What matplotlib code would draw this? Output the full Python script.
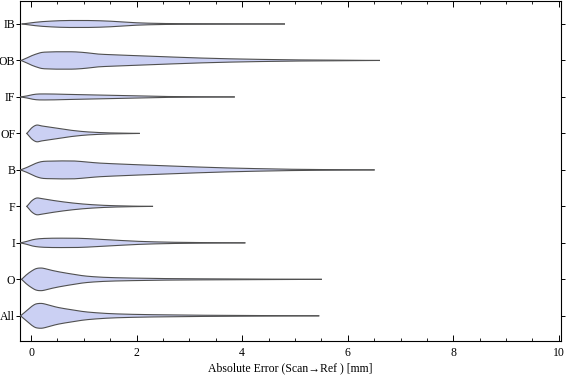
import numpy as np
import matplotlib
matplotlib.use("Agg")
import matplotlib.pyplot as plt
from matplotlib.ticker import MultipleLocator

# Categories, bottom to top
categories = ["All", "O", "I", "F", "B", "OF", "IF", "OB", "IB"]

# Shared grid of absolute error values (mm) at which the violin half-widths are read
x_grid = [-0.2, -0.1, 0.0, 0.1, 0.2, 0.35, 0.5, 0.75, 1.0, 1.25, 1.5, 2.0, 2.5, 3.0, 3.5, 4.0, 5.0, 6.0]

# Maximum value of each distribution (end of tail)
max_err = {"All": 5.45, "O": 5.5, "I": 4.05, "F": 2.3, "B": 6.5,
           "OF": 2.05, "IF": 3.85, "OB": 6.6, "IB": 4.8}

# Half-width of each violin (density, in pixel-like units) at x_grid
width_All = [0, 4.5, 9.0, 12.0, 12.4, 10.5, 8.5, 6.2, 4.2, 3.0, 2.2, 1.4, 1.0, 0.7, 0.5, 0.35, 0.12, 0]
width_O   = [0, 4.0, 8.0, 10.8, 11.3, 9.5, 7.8, 5.5, 3.5, 2.4, 1.8, 1.2, 0.8, 0.6, 0.45, 0.3, 0.1, 0]
width_I   = [0, 1.2, 2.8, 3.8, 4.3, 4.6, 4.7, 4.7, 4.4, 3.7, 3.0, 1.6, 0.8, 0.4, 0.2, 0.05, 0, 0]
width_F   = [0, 0, 5.0, 8.3, 7.8, 6.5, 5.3, 3.6, 2.3, 1.4, 0.8, 0.2, 0, 0, 0, 0, 0, 0]
width_B   = [0, 2.0, 4.5, 6.8, 8.3, 8.8, 9.0, 9.0, 8.2, 7.0, 6.3, 5.2, 4.2, 3.2, 2.3, 1.6, 0.6, 0.2]
width_OF  = [0, 0, 5.0, 8.3, 7.5, 6.3, 5.0, 3.2, 1.8, 1.0, 0.5, 0.1, 0, 0, 0, 0, 0, 0]
width_IF  = [0, 0.8, 2.0, 2.8, 3.0, 3.0, 2.8, 2.5, 2.2, 1.9, 1.6, 1.0, 0.5, 0.25, 0.1, 0, 0, 0]
width_OB  = [0, 2.0, 4.5, 6.5, 8.0, 8.5, 8.7, 8.7, 8.0, 6.5, 5.8, 4.8, 3.8, 2.8, 2.0, 1.4, 0.6, 0.25]
width_IB  = [0, 0.5, 1.2, 1.8, 2.3, 2.8, 3.2, 3.5, 3.5, 3.3, 2.8, 1.2, 0.5, 0.3, 0.2, 0.1, 0, 0]

widths = {"All": width_All, "O": width_O, "I": width_I, "F": width_F, "B": width_B,
          "OF": width_OF, "IF": width_IF, "OB": width_OB, "IB": width_IB}

left_tip = {"All": -0.2, "O": -0.18, "I": -0.2, "F": -0.08, "B": -0.2,
            "OF": -0.08, "IF": -0.2, "OB": -0.19, "IB": -0.17}

xlabel = "Absolute Error (Scan\u2192Ref ) [mm]"

fill_color = "#CBD0F3"
edge_color = "#505050"
scale = 1.0 / 36.5   # half-width units -> category spacing

plt.rcParams["font.family"] = ["Liberation Serif", "DejaVu Serif"]
fig = plt.figure(figsize=(5.76, 3.81), dpi=100)
ax = fig.add_axes([20 / 576, 1 - 341 / 381, 541 / 576, 340 / 381])


def smooth(xs, ys, n=400):
    xs = np.asarray(xs, float)
    ys = np.asarray(ys, float)
    # monotone cubic Hermite (Fritsch-Carlson)
    h = np.diff(xs)
    d = np.diff(ys) / h
    m = np.zeros_like(ys)
    m[1:-1] = (d[:-1] + d[1:]) / 2
    m[0] = d[0]
    m[-1] = d[-1]
    for k in range(len(d)):
        if d[k] == 0:
            m[k] = 0
            m[k + 1] = 0
        else:
            a = m[k] / d[k]
            b = m[k + 1] / d[k]
            s = a * a + b * b
            if s > 9:
                t = 3 / np.sqrt(s)
                m[k] = t * a * d[k]
                m[k + 1] = t * b * d[k]
    xx = np.linspace(xs[0], xs[-1], n)
    idx = np.clip(np.searchsorted(xs, xx) - 1, 0, len(h) - 1)
    t = (xx - xs[idx]) / h[idx]
    h00 = 2 * t**3 - 3 * t**2 + 1
    h10 = t**3 - 2 * t**2 + t
    h01 = -2 * t**3 + 3 * t**2
    h11 = t**3 - t**2
    yy = h00 * ys[idx] + h10 * h[idx] * m[idx] + h01 * ys[idx + 1] + h11 * h[idx] * m[idx + 1]
    return xx, np.clip(yy, 0, None)


for i, cat in enumerate(categories):
    pos = i + 1
    xs = [left_tip[cat]]
    ws = [0.0]
    for xg, wg in zip(x_grid, widths[cat]):
        if xg > left_tip[cat] and xg < max_err[cat]:
            xs.append(xg)
            ws.append(wg)
    xs.append(max_err[cat])
    ws.append(0.0)
    xx, yy = smooth(xs, ws)
    yy = yy * scale
    ax.fill_between(xx, pos - yy, pos + yy, facecolor=fill_color, edgecolor="none", zorder=2)
    ax.plot(xx, pos + yy, color=edge_color, lw=0.8, zorder=3)
    ax.plot(xx, pos - yy, color=edge_color, lw=0.8, zorder=3)

ax.set_xlim(-0.21, 10.04)
ax.set_ylim(0.31, 9.63)

ax.xaxis.set_major_locator(MultipleLocator(2))
ax.xaxis.set_minor_locator(MultipleLocator(0.5))
ax.tick_params(axis="x", which="major", direction="in", length=4, width=0.7,
               top=True, bottom=True, labelsize=8.5, pad=4)
ax.tick_params(axis="x", which="minor", direction="in", length=2.2, width=0.6,
               top=True, bottom=True)
ax.set_yticks(range(1, len(categories) + 1))
ax.set_yticklabels(categories)
ax.tick_params(axis="y", which="major", direction="out", length=3, width=0.7,
               left=True, right=True, labelsize=8.5, pad=0.5)
for sp in ax.spines.values():
    sp.set_linewidth(0.8)

ax.set_xlabel(xlabel, fontsize=8.5, labelpad=3)

fig.savefig("out.png", dpi=100)
